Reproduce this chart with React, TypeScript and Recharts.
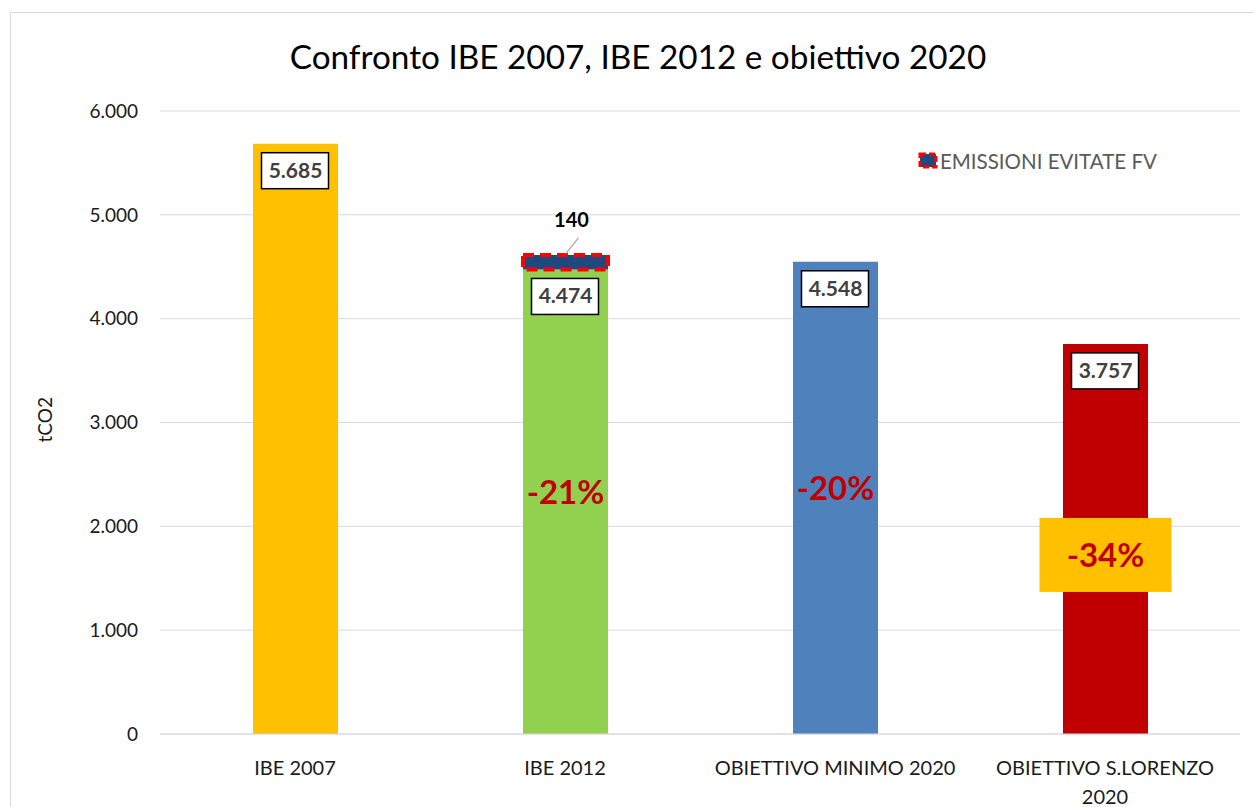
import React from "react";
import { Bar, BarChart, CartesianGrid, Cell, LabelList, Legend, XAxis, YAxis } from "recharts";

const categories = ["IBE 2007", "IBE 2012", "OBIETTIVO MINIMO 2020", "OBIETTIVO S.LORENZO 2020"];
const emissions = [5685, 4474, 4548, 3757];
const avoidedPV = [null, 140, null, null];
const reductions = ["", "-21%", "-20%", "-34%"];
const barColors = ["#FFC000", "#92D050", "#4F81BD", "#C00000"];
const yTicks = [0, 1000, 2000, 3000, 4000, 5000, 6000];

const data = categories.map((name, i) => ({
  name,
  base: emissions[i],
  fv: avoidedPV[i],
  pct: reductions[i]
}));

const FONT = "Lato, 'Open Sans', sans-serif";

function fmt(n: number) {
  return String(n).replace(/\B(?=(\d{3})+(?!\d))/g, ".");
}

// long category names go on two lines, like the original
function wrapLabel(s: string) {
  if (s.length <= 22) return [s];
  const cut = s.lastIndexOf(" ");
  return [s.slice(0, cut), s.slice(cut + 1)];
}

function ValueBox(props: any) {
  const { x, y, width, value } = props;
  const cx = x + width / 2;
  const top = y + 9;
  return (
    <g>
      <rect x={cx - 34} y={top} width={67} height={36} fill="#fff" stroke="#000" strokeWidth={1.5} />
      <text x={cx} y={top + 25} textAnchor="middle" fontFamily={FONT} fontWeight={700} fontSize={21} fill="#404040">
        {fmt(value)}
      </text>
    </g>
  );
}

function PctLabel(props: any) {
  const { x, y, width, height, index } = props;
  const label = reductions[index];
  if (!label) return null;
  const cx = x + width / 2;
  const mid = y + height / 2;
  if (index === 3) {
    const cy = mid + 16;
    return (
      <g>
        <rect x={cx - 66} y={cy - 37} width={132} height={74} fill="#FFC000" />
        <text x={cx} y={cy + 12} textAnchor="middle" fontFamily={FONT} fontWeight={700} fontSize={33} fill="#C00000">
          {label}
        </text>
      </g>
    );
  }
  return (
    <text x={cx} y={mid - 10 + 12} textAnchor="middle" fontFamily={FONT} fontWeight={700} fontSize={33} fill="#C00000">
      {label}
    </text>
  );
}

function FvLabel(props: any) {
  const { x, y, width, value } = props;
  if (value == null) return null;
  const cx = x + width / 2;
  return (
    <g>
      <line x1={cx + 13} y1={y - 17} x2={cx} y2={y - 1} stroke="#a6a6a6" strokeWidth={1.2} />
      <text x={cx + 6} y={y - 28} textAnchor="middle" fontFamily={FONT} fontWeight={700} fontSize={20} fill="#000">
        {value}
      </text>
    </g>
  );
}

function CategoryTick(props: any) {
  const { x, y, payload } = props;
  const lines = wrapLabel(payload.value);
  return (
    <text x={x} y={y + 15} textAnchor="middle" fontFamily={FONT} fontSize={20} fill="#1a1a1a">
      {lines.map((l, i) => (
        <tspan key={i} x={x} dy={i === 0 ? 0 : 29}>
          {l}
        </tspan>
      ))}
    </text>
  );
}

function FvLegend() {
  return (
    <div style={{ display: "flex", alignItems: "center", fontFamily: FONT, fontSize: 20.5, color: "#595959" }}>
      <svg width={21} height={20} style={{ marginRight: 1 }}>
        <rect x={2} y={3} width={16} height={13} fill="#1F497D" stroke="#FF0000" strokeWidth={3} strokeDasharray="6 3" />
      </svg>
      <span>EMISSIONI EVITATE FV</span>
    </div>
  );
}

export default function App() {
  return (
    <div style={{ position: "absolute", left: 0, top: 0, width: 1254, height: 807, background: "#fff", overflow: "hidden" }}>
      <div style={{ position: "absolute", left: 10, top: 12, width: 1260, height: 820, border: "1.5px solid #d9d9d9" }} />
      <div
        style={{
          position: "absolute",
          left: 0,
          width: 1276,
          top: 36,
          textAlign: "center",
          fontFamily: FONT,
          fontSize: 33.3,
          color: "#000"
        }}
      >
        Confronto IBE 2007, IBE 2012 e obiettivo 2020
      </div>
      <BarChart
        width={1254}
        height={807}
        data={data}
        margin={{ top: 111, right: 14, bottom: 43, left: 100 }}
        style={{ position: "absolute", left: 0, top: 0 }}
      >
        <CartesianGrid stroke="#d9d9d9" vertical={false} />
        <XAxis
          dataKey="name"
          stroke="#d9d9d9"
          tickLine={false}
          tick={<CategoryTick />}
          tickMargin={20}
          interval={0}
        />
        <YAxis
          width={60}
          domain={[0, 6000]}
          ticks={yTicks}
          axisLine={false}
          tickLine={false}
          tickSize={0}
          tickMargin={22}
          tickFormatter={fmt}
          tick={{ fontFamily: FONT, fontSize: 19, fill: "#1a1a1a" }}
          label={{ value: "tCO2", angle: -90, position: "insideLeft", dx: -60, dy: 20, style: { fontFamily: FONT, fontSize: 19, fill: "#1a1a1a" } }}
        />
        <Legend
          layout="horizontal"
          verticalAlign="middle"
          align="center"
          content={<FvLegend />}
          wrapperStyle={{ top: 149, left: 918, width: 300 }}
        />
        <Bar dataKey="base" stackId="a" barSize={85} isAnimationActive={false} legendType="none">
          {data.map((d, i) => (
            <Cell key={d.name} fill={barColors[i]} />
          ))}
          <LabelList dataKey="base" content={<ValueBox />} />
          <LabelList dataKey="pct" content={<PctLabel />} />
        </Bar>
        <Bar
          dataKey="fv"
          name="EMISSIONI EVITATE FV"
          stackId="a"
          barSize={85}
          fill="#1F497D"
          stroke="#FF0000"
          strokeWidth={4}
          strokeDasharray="11 6"
          isAnimationActive={false}
        >
          <LabelList dataKey="fv" content={<FvLabel />} />
        </Bar>
      </BarChart>
    </div>
  );
}
